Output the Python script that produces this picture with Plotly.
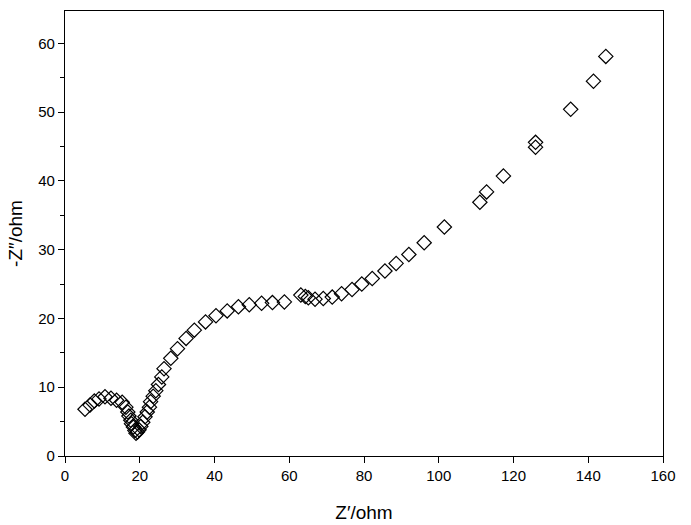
import plotly.graph_objects as go

z_real = [5.35, 6.7, 7.85, 9.1, 10.7, 12.3, 13.8, 15.3, 16.3, 16.8, 17.1, 17.6, 17.8, 18.3,
          18.7, 19.0, 19.4, 19.8, 20.3, 20.8, 21.4, 22.0, 22.6, 22.9, 23.6, 24.3, 25.0, 25.9,
          26.5, 28.3, 30.1, 32.4, 34.6, 37.6, 40.4, 43.4, 46.4, 49.3, 52.6, 55.5, 58.7,
          63.1, 64.3, 65.1, 66.9, 69.1, 71.5, 74.0, 76.8, 79.4, 82.2, 85.6, 88.6, 92.0,
          96.1, 101.5, 111.0, 112.8, 117.3, 125.9, 125.9, 135.3, 141.4, 144.7]
z_imag = [6.8, 7.4, 8.0, 8.3, 8.6, 8.4, 8.1, 7.8, 7.1, 6.4, 5.8, 5.2, 4.7, 4.2,
          3.7, 3.3, 3.5, 3.8, 4.3, 4.9, 5.7, 6.4, 7.1, 7.9, 8.7, 9.5, 10.4, 11.5,
          12.7, 14.2, 15.6, 17.1, 18.3, 19.5, 20.4, 21.1, 21.7, 22.0, 22.2, 22.3, 22.4,
          23.4, 23.2, 23.0, 22.8, 22.9, 23.1, 23.6, 24.2, 25.0, 25.8, 26.9, 28.0, 29.3,
          31.0, 33.3, 36.9, 38.4, 40.7, 44.9, 45.6, 50.4, 54.5, 58.1]

x_ticks = [0, 20, 40, 60, 80, 100, 120, 140, 160]
y_ticks = [0, 10, 20, 30, 40, 50, 60]

fig = go.Figure(go.Scatter(
    x=z_real, y=z_imag, mode="markers",
    marker=dict(symbol="diamond-open", size=11, color="black", line=dict(width=1.2, color="black")),
))

fig.update_layout(
    width=691, height=525,
    margin=dict(l=65, r=28, t=11, b=69),
    paper_bgcolor="white", plot_bgcolor="white",
    showlegend=False,
    font=dict(family="Liberation Sans, Arial, sans-serif", color="black", size=15),
)
fig.update_xaxes(
    range=[0, 160], tickvals=x_ticks, ticks="outside", ticklen=6, tickwidth=1, tickcolor="black",
    showline=True, linecolor="black", linewidth=1.3, mirror=True, showgrid=False, zeroline=False,
    automargin=False,
    title=dict(text="Z′/ohm", font=dict(size=19), standoff=22),
)
fig.update_yaxes(
    range=[0, 64.7], tickvals=y_ticks, ticks="outside", ticklen=6, tickwidth=1, tickcolor="black",
    minor=dict(dtick=5, tick0=0, ticks="outside", ticklen=4, tickcolor="black"),
    showline=True, linecolor="black", linewidth=1.3, mirror=True, showgrid=False, zeroline=False,
    automargin=False,
    title=dict(text="-Z″/ohm", font=dict(size=19), standoff=10),
)

fig.write_html("out.html", config={"displayModeBar": False},
               post_script="document.body.style.margin='0';")
